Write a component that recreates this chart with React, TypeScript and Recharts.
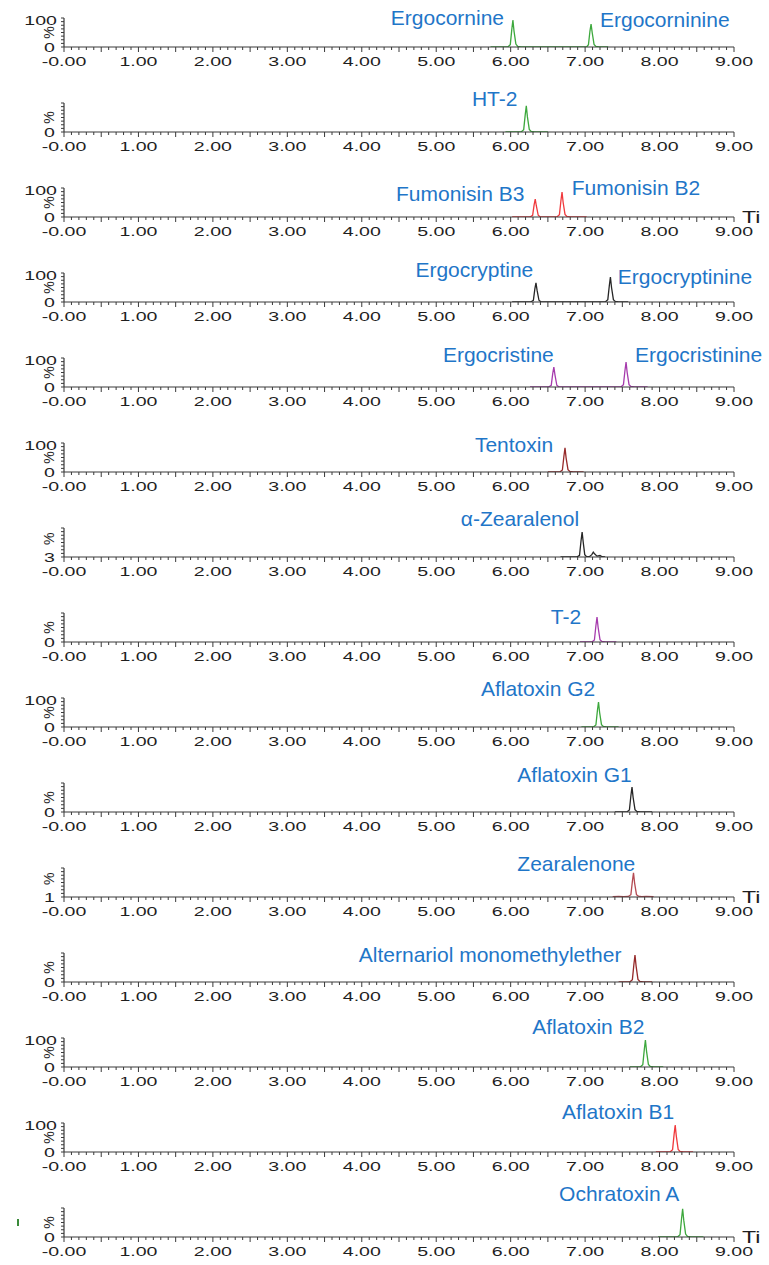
import React from "react";
import { LineChart, Line, XAxis, YAxis, ReferenceDot } from "recharts";

type Pt = [number, number];

const X_TICK_LABELS = ["-0.00", "1.00", "2.00", "3.00", "4.00", "5.00", "6.00", "7.00", "8.00", "9.00"];
const X_TICKS = Array.from({ length: 91 }, (_, i) => i / 10);
const Y_TICKS = [0, 12.5, 25, 37.5, 50, 62.5, 75, 87.5, 100];

const ergocornineTrace: Pt[] = [[5.73,0],[5.96,0],[5.995,8],[6.015,60],[6.03,93],[6.045,55],[6.07,10],[6.095,2],[6.14,0],[7.02,0],[7.045,8],[7.065,55],[7.08,79],[7.095,50],[7.12,9],[7.145,2],[7.19,0],[7.31,0]];
const ht2Trace: Pt[] = [[5.93,0],[6.14,0],[6.175,8],[6.195,58],[6.21,90],[6.225,52],[6.25,9],[6.275,2],[6.32,0],[6.5,0]];
const fumonisinTrace: Pt[] = [[6.02,0],[6.26,0],[6.295,6],[6.315,42],[6.33,62],[6.345,38],[6.37,6],[6.395,1],[6.44,0],[6.62,0],[6.655,8],[6.675,56],[6.69,86],[6.705,50],[6.73,9],[6.755,2],[6.8,0],[7.02,0]];
const ergocryptineTrace: Pt[] = [[6.02,0],[6.27,0],[6.305,6],[6.325,45],[6.34,66],[6.355,40],[6.38,6],[6.405,1],[6.45,0],[7.27,0],[7.305,8],[7.325,56],[7.34,86],[7.355,50],[7.38,8],[7.405,2],[7.45,0],[7.58,0]];
const ergocristineTrace: Pt[] = [[6.26,0],[6.51,0],[6.545,6],[6.565,46],[6.58,69],[6.595,42],[6.62,6],[6.645,1],[6.69,0],[7.48,0],[7.515,8],[7.535,56],[7.55,86],[7.565,50],[7.59,8],[7.615,2],[7.66,0],[7.84,0]];
const tentoxinTrace: Pt[] = [[6.5,0],[6.66,0],[6.695,7],[6.715,54],[6.73,83],[6.745,48],[6.77,8],[6.795,2],[6.84,0],[6.98,0]];
const zearalenolTrace: Pt[] = [[6.67,0],[6.89,0],[6.925,6],[6.945,55],[6.96,86],[6.975,50],[6.995,8],[7.02,1],[7.06,2],[7.09,8],[7.11,17],[7.13,10],[7.16,3],[7.2,5],[7.23,1],[7.27,0]];
const t2Trace: Pt[] = [[6.93,0],[7.09,0],[7.125,7],[7.145,56],[7.16,86],[7.175,50],[7.2,8],[7.225,2],[7.27,0],[7.42,0]];
const g2Trace: Pt[] = [[6.95,0],[7.11,0],[7.145,7],[7.165,56],[7.18,86],[7.195,50],[7.22,8],[7.245,2],[7.29,0],[7.45,0]];
const g1Trace: Pt[] = [[7.4,0],[7.56,0],[7.595,7],[7.615,56],[7.63,86],[7.645,50],[7.67,8],[7.695,2],[7.74,0],[7.9,0]];
const zearalenoneTrace: Pt[] = [[7.37,1],[7.45,2],[7.52,1],[7.58,2],[7.615,8],[7.635,54],[7.65,83],[7.665,48],[7.69,8],[7.715,3],[7.76,1],[7.82,2],[7.92,1]];
const ameTrace: Pt[] = [[7.45,0],[7.6,0],[7.635,8],[7.655,60],[7.67,93],[7.685,55],[7.71,9],[7.735,2],[7.78,0],[7.9,0]];
const b2Trace: Pt[] = [[7.6,0],[7.74,0],[7.775,8],[7.795,60],[7.81,93],[7.825,55],[7.85,9],[7.875,2],[7.92,0],[8.05,0]];
const b1Trace: Pt[] = [[7.95,0],[8.14,0],[8.175,8],[8.195,60],[8.21,93],[8.225,55],[8.25,9],[8.275,2],[8.32,0],[8.45,0]];
const otaTrace: Pt[] = [[7.98,0],[8.24,0],[8.275,8],[8.295,62],[8.31,97],[8.325,58],[8.35,10],[8.375,2],[8.42,0],[8.59,0]];

const TRACES: Pt[][] = [ergocornineTrace, ht2Trace, fumonisinTrace, ergocryptineTrace, ergocristineTrace, tentoxinTrace, zearalenolTrace, t2Trace, g2Trace, g1Trace, zearalenoneTrace, ameTrace, b2Trace, b1Trace, otaTrace];

const GREEN = "#3da83d";
const RED = "#f0393c";
const BLACK = "#262626";
const PURPLE = "#a63bad";
const BROWN = "#962a2a";
const ROSE = "#b44a52";
const TRACE_COLORS = [GREEN, GREEN, RED, BLACK, PURPLE, BROWN, BLACK, PURPLE, GREEN, BLACK, ROSE, BROWN, GREEN, RED, GREEN];

const TOP_LABELS = ["100", "", "100", "100", "100", "100", "", "", "100", "", "", "", "100", "100", ""];
const BOTTOM_LABELS = ["0", "0", "0", "0", "0", "0", "3", "0", "0", "0", "1", "0", "0", "0", "0"];
const SHOW_TIME = [false, false, true, false, false, false, false, false, false, false, true, false, false, false, true];

const PEAK_NAMES: string[][] = [
  ["Ergocornine", "Ergocorninine"],
  ["HT-2"],
  ["Fumonisin B3", "Fumonisin B2"],
  ["Ergocryptine", "Ergocryptinine"],
  ["Ergocristine", "Ergocristinine"],
  ["Tentoxin"],
  ["α-Zearalenol"],
  ["T-2"],
  ["Aflatoxin G2"],
  ["Aflatoxin G1"],
  ["Zearalenone"],
  ["Alternariol monomethylether"],
  ["Aflatoxin B2"],
  ["Aflatoxin B1"],
  ["Ochratoxin A"],
];
// label anchors (left edge time, vertical % level) — layout only
const LABEL_ANCHORS: Pt[][] = [
  [[4.39, 100], [7.2, 93]],
  [[5.48, 115]],
  [[4.46, 80], [6.82, 102]],
  [[4.72, 110], [7.44, 88]],
  [[5.09, 112], [7.67, 112]],
  [[5.52, 93]],
  [[5.33, 131]],
  [[6.54, 86]],
  [[5.6, 131]],
  [[6.09, 128]],
  [[6.09, 114]],
  [[3.96, 93]],
  [[6.29, 138]],
  [[6.69, 138]],
  [[6.65, 148]],
];

const FONT = "'Liberation Sans', Arial, Helvetica, sans-serif";
const AXIS = "#3a3a3a";
const TEXT = "#1e1e1e";
const LABEL_BLUE = "#1f76c8";
const PANEL_STEP = 85;
const CHART_H = 100;
const MARGIN_TOP = 33;
const X_AXIS_H = 38;

function makeXTick(showTime: boolean) {
  return (props: any) => {
    const { x, y, payload } = props;
    const v = payload.value as number;
    const isInt = Math.abs(v - Math.round(v)) < 1e-6;
    const isHalf = Math.abs(v * 2 - Math.round(v * 2)) < 1e-6;
    const len = isInt || isHalf ? 5 : 3;
    return (
      <g>
        <line x1={x} x2={x} y1={y} y2={y + len} stroke={AXIS} strokeWidth={1} />
        {isInt && (
          <text
            transform={`translate(${x},${y + 19}) scale(1.45,1)`}
            textAnchor="middle"
            fontSize={13.5}
            fill={TEXT}
            fontFamily={FONT}
          >
            {X_TICK_LABELS[Math.round(v)]}
          </text>
        )}
        {isInt && showTime && Math.round(v) === 9 && (
          <text
            transform={`translate(${x + 8},${y + 6}) scale(1.45,1)`}
            fontSize={16}
            fill={TEXT}
            fontFamily={FONT}
          >
            Ti
          </text>
        )}
      </g>
    );
  };
}

function makeYTick(top: string, bottom: string) {
  const shifted = bottom !== "0";
  return (props: any) => {
    const { x, y, payload } = props;
    const v = payload.value as number;
    return (
      <g>
        <line x1={x - 3} x2={x} y1={y} y2={y} stroke={AXIS} strokeWidth={1} />
        {v === 100 && top && (
          <text transform={`translate(${x - 7},${y + 7}) scale(1.45,1)`} textAnchor="end" fontSize={13.5} fill={TEXT} fontFamily={FONT}>
            {top}
          </text>
        )}
        {v === 0 && (
          <text transform={`translate(${x - 9},${y + 5}) scale(1.45,1)`} textAnchor="end" fontSize={13.5} fill={TEXT} fontFamily={FONT}>
            {bottom}
          </text>
        )}
        {v === (shifted ? 62.5 : 50) && (
          <text transform={`translate(${x - 15},${y}) rotate(-90)`} textAnchor="middle" dy="0.35em" fontSize={14} fill={TEXT} fontFamily={FONT}>
            %
          </text>
        )}
      </g>
    );
  };
}

function Panel({ index }: { index: number }) {
  const data = TRACES[index].map(([t, v]) => ({ t, v }));
  const names = PEAK_NAMES[index];
  const anchors = LABEL_ANCHORS[index];
  return (
    <div style={{ position: "absolute", left: 0, top: PANEL_STEP * index - 15, width: 769, height: CHART_H }}>
      <LineChart width={769} height={CHART_H} data={data} margin={{ top: MARGIN_TOP, right: 35, bottom: 0, left: 0 }}>
        <XAxis
          dataKey="t"
          type="number"
          domain={[0, 9]}
          ticks={X_TICKS}
          interval={0}
          height={X_AXIS_H}
          tickSize={0}
          tickMargin={0}
          axisLine={{ stroke: AXIS, strokeWidth: 1.2 }}
          tickLine={false}
          tick={makeXTick(SHOW_TIME[index])}
          allowDataOverflow
        />
        <YAxis
          type="number"
          domain={[0, 100]}
          ticks={Y_TICKS}
          interval={0}
          width={64}
          tickSize={0}
          tickMargin={0}
          axisLine={{ stroke: AXIS, strokeWidth: 1.2 }}
          tickLine={false}
          tick={makeYTick(TOP_LABELS[index], BOTTOM_LABELS[index])}
          allowDataOverflow
        />
        <Line
          type="linear"
          dataKey="v"
          stroke={TRACE_COLORS[index]}
          strokeWidth={1.3}
          dot={false}
          activeDot={false}
          isAnimationActive={false}
        />
        {names.map((name, k) => (
          <ReferenceDot
            key={name}
            x={anchors[k][0]}
            y={anchors[k][1]}
            r={0}
            ifOverflow="visible"
            shape={(p: any) => (
              <text x={p.cx} y={p.cy} dy="0.35em" fontSize={21} fill={LABEL_BLUE} fontFamily={FONT}>
                {name}
              </text>
            )}
          />
        ))}
      </LineChart>
    </div>
  );
}

export default function App() {
  return (
    <div style={{ position: "absolute", left: 0, top: 0, width: 769, height: 1265, background: "#fff", overflow: "hidden" }}>
      {TRACES.map((_, i) => (
        <Panel key={i} index={i} />
      ))}
      <div style={{ position: "absolute", left: 17, top: 1219, width: 1.5, height: 7, background: "#3a8a3a" }} />
    </div>
  );
}
